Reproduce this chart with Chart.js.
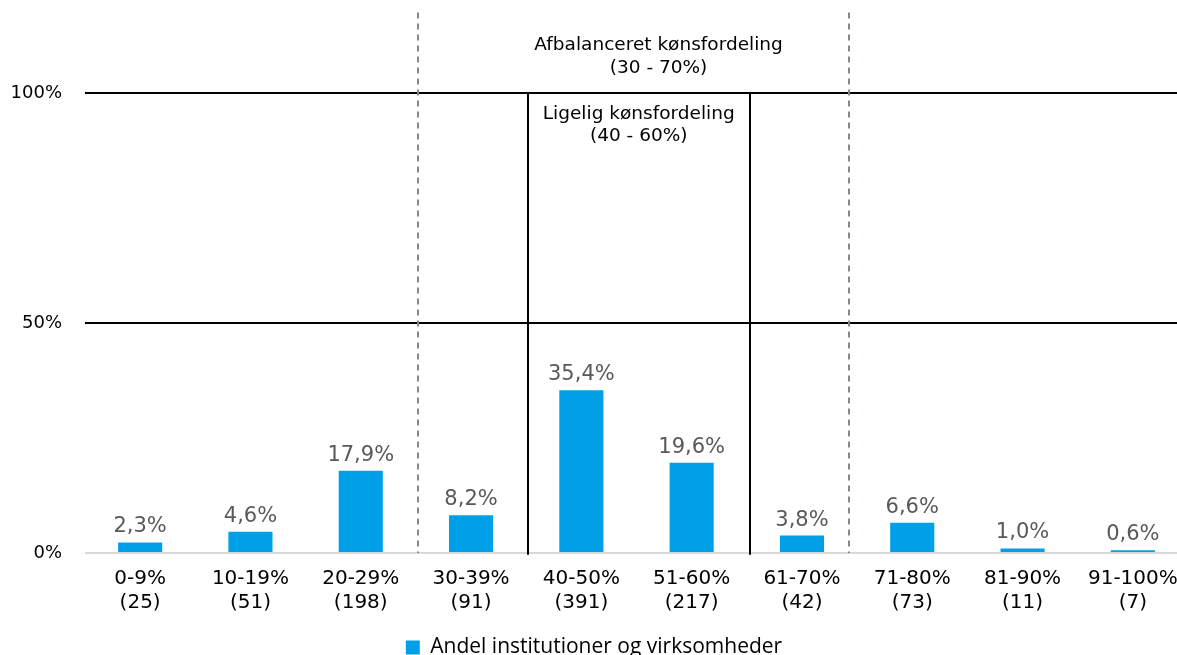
<!DOCTYPE html>
<html>
<head>
<meta charset="utf-8">
<script src="https://cdn.jsdelivr.net/npm/chart.js@4"></script>
<style>
  html, body { margin: 0; padding: 0; background: #fff; overflow: hidden; }
  #wrap { position: relative; width: 1188px; height: 668px; }
</style>
</head>
<body>
<div id="wrap"><canvas id="chart"></canvas></div>
<script>
// Data
const categories = [
  ["0-9%", "(25)"], ["10-19%", "(51)"], ["20-29%", "(198)"], ["30-39%", "(91)"],
  ["40-50%", "(391)"], ["51-60%", "(217)"], ["61-70%", "(42)"], ["71-80%", "(73)"],
  ["81-90%", "(11)"], ["91-100%", "(7)"]
]
const shares = [2.3, 4.6, 17.9, 8.2, 35.4, 19.6, 3.8, 6.6, 1.0, 0.6]
const yTicks = [0, 50, 100]
const seriesLabel = "Andel institutioner og virksomheder"

const FONT = "'DejaVu Sans', Verdana, sans-serif"
const fmt = (v) => v.toFixed(1).replace(".", ",") + "%"

// Range boxes, labels and bar values
const overlay = {
  id: "overlay",
  beforeDatasetsDraw(chart) {
    const ctx = chart.ctx
    const x = chart.scales.x
    const y = chart.scales.y
    ctx.save()
    // dashed: balanced range 30-70%
    ctx.strokeStyle = "#8a8a7e"
    ctx.lineWidth = 2
    ctx.setLineDash([6, 5])
    ;[2.52, 6.43].forEach((v) => {
      const px = Math.round(x.getPixelForValue(v))
      ctx.beginPath()
      ctx.moveTo(px, y.getPixelForValue(117.5))
      ctx.lineTo(px, y.getPixelForValue(0))
      ctx.stroke()
    })
    // solid: equal range 40-60%
    ctx.setLineDash([])
    ctx.strokeStyle = "#000"
    ;[3.52, 5.53].forEach((v) => {
      const px = Math.round(x.getPixelForValue(v))
      ctx.beginPath()
      ctx.moveTo(px, y.getPixelForValue(100))
      ctx.lineTo(px, y.getPixelForValue(-0.4))
      ctx.stroke()
    })
    ctx.fillStyle = "#000"
    ctx.font = "18.5px " + FONT
    ctx.textAlign = "center"
    ctx.textBaseline = "middle"
    const ax = x.getPixelForValue(4.7)
    ctx.fillText("Afbalanceret kønsfordeling", ax, y.getPixelForValue(110.3))
    ctx.fillText("(30 - 70%)", ax, y.getPixelForValue(105.3))
    const lx = x.getPixelForValue(4.52)
    ctx.fillText("Ligelig kønsfordeling", lx, y.getPixelForValue(95.4))
    ctx.fillText("(40 - 60%)", lx, y.getPixelForValue(90.6))
    ctx.restore()
  },
  afterDatasetsDraw(chart) {
    const ctx = chart.ctx
    const meta = chart.getDatasetMeta(0)
    ctx.save()
    ctx.fillStyle = "#595959"
    ctx.font = "21px " + FONT
    ctx.textAlign = "center"
    ctx.textBaseline = "alphabetic"
    meta.data.forEach((bar, i) => {
      ctx.fillText(fmt(shares[i]), bar.x, bar.y - 10)
    })
    ctx.restore()
  },
}

new Chart(document.getElementById("chart"), {
  type: "bar",
  data: {
    labels: categories,
    datasets: [
      {
        label: seriesLabel,
        data: shares,
        backgroundColor: "#00A0E9",
        barPercentage: 0.4,
        categoryPercentage: 1,
      },
    ],
  },
  options: {
    responsive: true,
    maintainAspectRatio: false,
    animation: false,
    layout: { padding: { top: 93, left: 0, right: 0, bottom: 0 } },
    plugins: {
      tooltip: { enabled: false },
      legend: {
        position: "bottom",
        labels: {
          font: { family: "'Open Sans', sans-serif", size: 21 },
          color: "#000",
          boxWidth: 14,
          boxHeight: 14,
          padding: 10,
        },
      },
    },
    scales: {
      x: {
        grid: { display: false },
        border: { display: false },
        ticks: {
          color: "#000",
          font: { family: FONT, size: 20 },
          padding: 6,
          maxRotation: 0,
        },
        afterFit: (s) => { s.height = 74 },
      },
      y: {
        min: 0,
        max: 100,
        afterBuildTicks: (s) => { s.ticks = yTicks.map((v) => ({ value: v })) },
        grid: {
          drawTicks: false,
          lineWidth: 2,
          color: (c) => (c.tick && c.tick.value === 0 ? "#d9d9d9" : "#000"),
        },
        border: { display: false },
        ticks: {
          color: "#000",
          font: { family: FONT, size: 18 },
          padding: 23,
          callback: (v) => v + "%",
        },
        afterFit: (s) => { s.width = 85 },
      },
    },
  },
  plugins: [overlay],
})
</script>
</body>
</html>
